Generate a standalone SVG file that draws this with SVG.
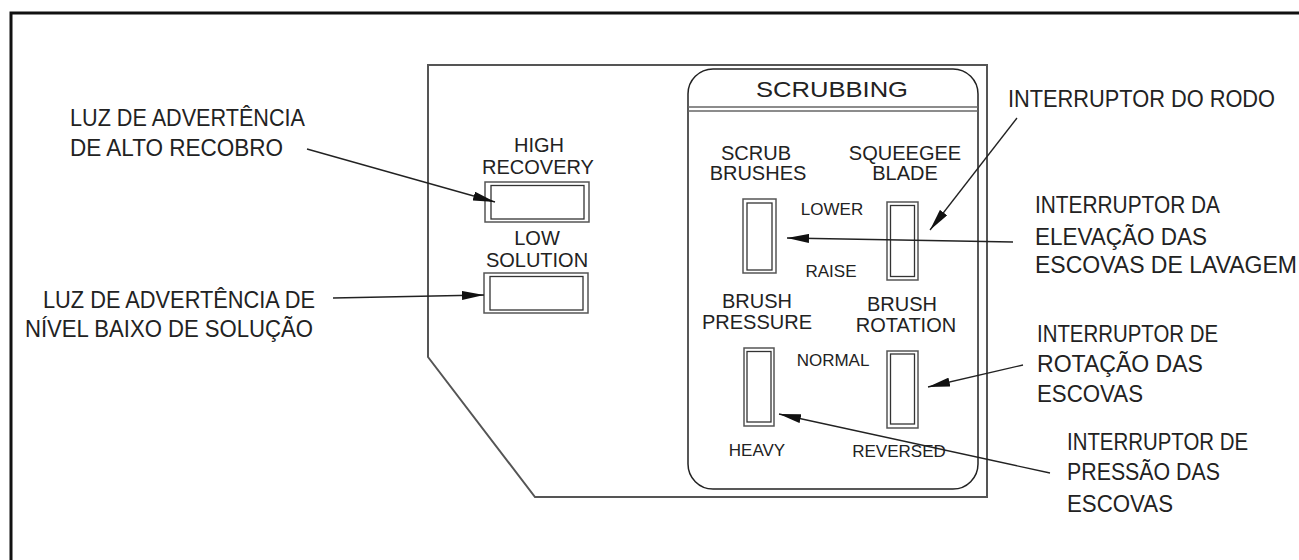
<svg xmlns="http://www.w3.org/2000/svg" width="1299" height="560" viewBox="0 0 1299 560">
  <defs>
    <style>
      .frame { fill: none; stroke: #111; stroke-width: 3; }
      .panel { fill: none; stroke: #555; stroke-width: 2; }
      .scrub { fill: none; stroke: #222; stroke-width: 1.5; }
      .sep { stroke: #666; stroke-width: 1.5; }
      .outer { fill: #fff; stroke: #555; stroke-width: 1.5; }
      .inner { fill: #fff; stroke: #333; stroke-width: 1.3; }
      .lead { fill: none; stroke: #222; stroke-width: 1.3; marker-end: url(#arrow); }
      .lbl { font-family: "Liberation Sans", Arial, sans-serif; fill: #222; text-anchor: middle; }
      .big { font-size: 20px; }
      .small { font-size: 17px; }
      .call { font-family: "Liberation Sans", Arial, sans-serif; font-size: 23px; fill: #222; }
    </style>
    <marker id="arrow" markerUnits="userSpaceOnUse" viewBox="0 0 22 9" refX="22" refY="4.5" markerWidth="22" markerHeight="9" orient="auto">
      <path d="M0,0 L22,4.5 L0,9 Z" fill="#111"/>
    </marker>
  </defs>

  <rect width="1299" height="560" fill="#fff"/>

  <!-- outer drawing frame (left and top edges) -->
  <path class="frame" d="M11,562 L11,13 L1301,13"/>

  <!-- control panel outline -->
  <g id="panel">
    <path class="panel" d="M428,65 L987,65 L987,497 L535,497 L428,357 Z"/>
  </g>

  <!-- warning lights -->
  <g id="high-recovery">
    <text class="lbl big" x="539" y="152">HIGH</text>
    <text class="lbl big" x="538" y="174">RECOVERY</text>
    <rect class="outer" x="485" y="182" width="104" height="40"/>
    <rect class="inner" x="491" y="185.5" width="93" height="33.5"/>
  </g>
  <g id="low-solution">
    <text class="lbl big" x="537" y="245">LOW</text>
    <text class="lbl big" x="537" y="267">SOLUTION</text>
    <rect class="outer" x="484" y="273" width="104" height="40"/>
    <rect class="inner" x="490" y="276.5" width="93" height="33.5"/>
  </g>

  <!-- scrubbing switch block -->
  <g id="scrubbing">
    <rect class="scrub" x="688" y="69" width="290" height="420" rx="25" ry="25"/>
    <line class="sep" x1="688" y1="107" x2="978" y2="107"/>
    <line class="sep" x1="688" y1="111" x2="978" y2="111"/>
    <text class="lbl" font-size="22" x="832" y="97" textLength="152" lengthAdjust="spacingAndGlyphs">SCRUBBING</text>
  </g>

  <g id="scrub-brushes">
    <text class="lbl big" x="756" y="160">SCRUB</text>
    <text class="lbl big" x="758" y="180">BRUSHES</text>
    <rect class="outer" x="743" y="199" width="33" height="74"/>
    <rect class="inner" x="747" y="203" width="25" height="67"/>
  </g>

  <g id="squeegee-blade">
    <text class="lbl big" x="905" y="160">SQUEEGEE</text>
    <text class="lbl big" x="905" y="180">BLADE</text>
    <rect class="outer" x="887" y="202" width="31" height="78"/>
    <rect class="inner" x="890.5" y="205.5" width="24" height="71"/>
  </g>

  <g id="lower-raise">
    <text class="lbl small" x="832" y="215">LOWER</text>
    <text class="lbl small" x="831" y="277">RAISE</text>
  </g>

  <g id="brush-pressure">
    <text class="lbl big" x="757" y="308">BRUSH</text>
    <text class="lbl big" x="757" y="329">PRESSURE</text>
    <rect class="outer" x="744" y="348" width="30" height="78"/>
    <rect class="inner" x="747" y="351.5" width="24" height="70.5"/>
    <text class="lbl small" x="757" y="456">HEAVY</text>
  </g>

  <g id="brush-rotation">
    <text class="lbl big" x="902" y="311">BRUSH</text>
    <text class="lbl big" x="906" y="332">ROTATION</text>
    <rect class="outer" x="887" y="351" width="31" height="77"/>
    <rect class="inner" x="890.5" y="354" width="24" height="70"/>
    <text class="lbl small" x="833" y="366">NORMAL</text>
    <text class="lbl small" x="899" y="457">REVERSED</text>
  </g>

  <!-- callout labels -->
  <g id="label-high-recovery">
    <text class="call" x="70" y="126" textLength="235" lengthAdjust="spacingAndGlyphs">LUZ DE ADVERTÊNCIA</text>
    <text class="call" x="70" y="156" textLength="213" lengthAdjust="spacingAndGlyphs">DE ALTO RECOBRO</text>
  </g>
  <g id="label-low-solution">
    <text class="call" x="43" y="308" textLength="272" lengthAdjust="spacingAndGlyphs">LUZ DE ADVERTÊNCIA DE</text>
    <text class="call" x="25" y="337" textLength="288" lengthAdjust="spacingAndGlyphs">NÍVEL BAIXO DE SOLUÇÃO</text>
  </g>
  <g id="label-squeegee">
    <text class="call" x="1008" y="107" textLength="267" lengthAdjust="spacingAndGlyphs">INTERRUPTOR DO RODO</text>
  </g>
  <g id="label-scrub-lift">
    <text class="call" x="1035" y="213" textLength="185" lengthAdjust="spacingAndGlyphs">INTERRUPTOR DA</text>
    <text class="call" x="1035" y="245" textLength="172" lengthAdjust="spacingAndGlyphs">ELEVAÇÃO DAS</text>
    <text class="call" x="1035" y="273" textLength="262" lengthAdjust="spacingAndGlyphs">ESCOVAS DE LAVAGEM</text>
  </g>
  <g id="label-rotation">
    <text class="call" x="1037" y="342" textLength="181" lengthAdjust="spacingAndGlyphs">INTERRUPTOR DE</text>
    <text class="call" x="1037" y="372" textLength="166" lengthAdjust="spacingAndGlyphs">ROTAÇÃO DAS</text>
    <text class="call" x="1037" y="402" textLength="106" lengthAdjust="spacingAndGlyphs">ESCOVAS</text>
  </g>
  <g id="label-pressure">
    <text class="call" x="1067" y="450" textLength="181" lengthAdjust="spacingAndGlyphs">INTERRUPTOR DE</text>
    <text class="call" x="1067" y="480" textLength="153" lengthAdjust="spacingAndGlyphs">PRESSÃO DAS</text>
    <text class="call" x="1067" y="512" textLength="106" lengthAdjust="spacingAndGlyphs">ESCOVAS</text>
  </g>

  <!-- leader arrows -->
  <g id="connectors">
    <line class="lead" x1="307" y1="149" x2="495" y2="202"/>
    <line class="lead" x1="333" y1="298" x2="484" y2="295"/>
    <line class="lead" x1="1017" y1="118" x2="930" y2="230"/>
    <line class="lead" x1="1013" y1="242" x2="787" y2="238"/>
    <line class="lead" x1="1023" y1="365" x2="928" y2="387"/>
    <line class="lead" x1="1050" y1="473" x2="779" y2="414"/>
  </g>
</svg>
